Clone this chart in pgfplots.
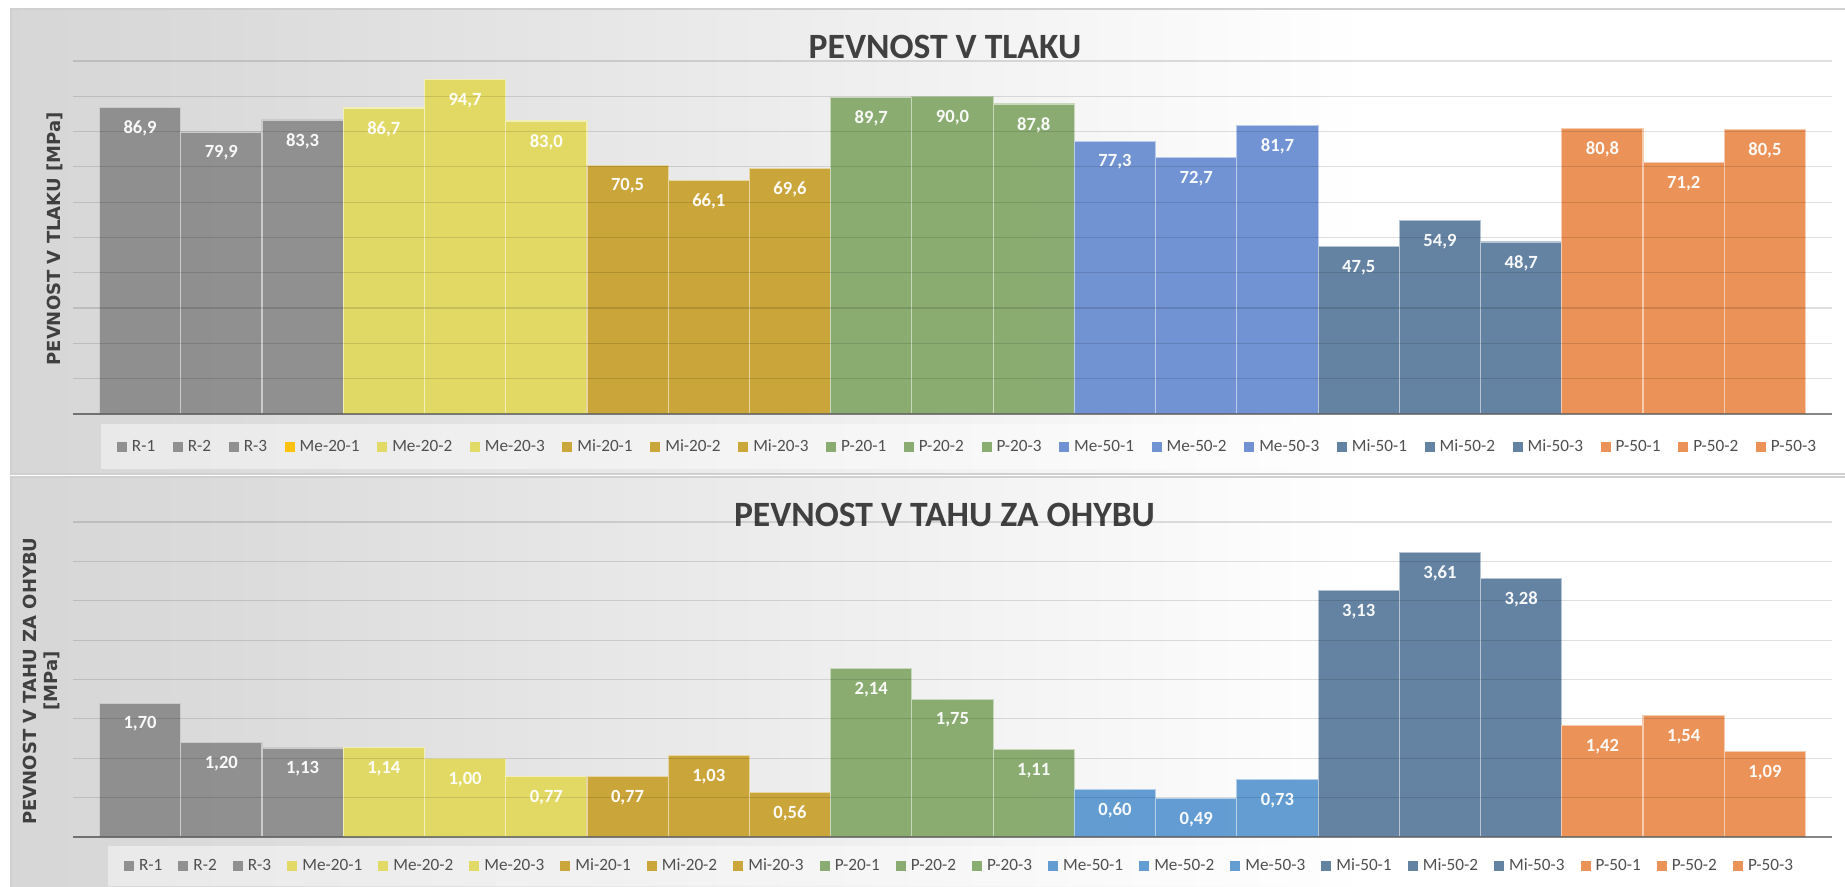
\documentclass[border=0pt]{standalone}
\usepackage{fontspec}
\setmainfont{Carlito}
\newfontfamily\djv{DejaVu Sans}
\usepackage{pgfplots}
\pgfplotsset{compat=1.18}

\definecolor{cR}{HTML}{8C8C8C}
\definecolor{cMe}{HTML}{E2D95F}
\definecolor{cMi}{HTML}{C9A231}
\definecolor{cP}{HTML}{85A96B}
\definecolor{cMeT}{HTML}{6A8ED1}
\definecolor{cMeB}{HTML}{5B98D0}
\definecolor{cMiF}{HTML}{5C7D9E}
\definecolor{cPF}{HTML}{E98D4F}
\definecolor{cGold}{HTML}{FFC000}
\definecolor{cTitle}{HTML}{404040}
\definecolor{cLeg}{HTML}{505050}
\definecolor{gA}{HTML}{C4C4C4}
\definecolor{gB}{HTML}{DADADA}
\definecolor{gC}{HTML}{BDBDBD}
\definecolor{cFrame}{HTML}{D0D0D0}

\pgfdeclarehorizontalshading{bgshade}{100bp}{color(0bp)=(gA); color(30bp)=(gB); color(62bp)=(white); color(80bp)=(white); color(100bp)=(gC)}

\pgfplotsset{
  sqleg/.style={legend image code/.code={\fill[##1,draw=none] (0pt,-2.5pt) rectangle (5pt,2.5pt);}},
  sqgold/.style={legend image code/.code={\fill[fill=cGold,draw=none] (0pt,-2.5pt) rectangle (5pt,2.5pt);}},
  panel/.style={
    scale only axis, width=879.5pt,
    xmin=-0.826, xmax=20.826, ymin=0,
    xtick=\empty, yticklabels={},
    ymajorgrids, grid style={black, opacity=0.12, line width=0.6pt},
    axis x line*=bottom, axis y line*=left,
    y axis line style={draw=none},
    x axis line style={black, opacity=0.4, line width=0.6pt, -},
    major tick length=0pt,
    axis on top,
    ybar, bar width=1, bar shift=0pt,
    every node near coord/.append style={font=\bfseries\fontsize{9.3}{9.3}\selectfont, text=white, anchor=center, yshift=-10.5pt},
    legend columns=21,
    legend style={draw=none, fill=none, inner sep=0pt, outer sep=0pt, anchor=west,
      font=\fontsize{8.6}{8.6}\selectfont, text=cLeg,
      nodes={inner xsep=0pt, inner ysep=1pt},
      /tikz/every odd column/.append style={column sep=2.5pt}},
  },
}
\newcommand{\bb}[4]{\addplot[fill=#1, draw=#1!45!white, line width=0.6pt, fill opacity=0.95, sqleg] coordinates {(#2,#3)}; \addlegendentry{#4}}

\begin{document}
\begin{tikzpicture}[x=1pt,y=1pt]
\useasboundingbox (0,0) rectangle (922.5,443.5);
% panels
\shade[shading=bgshade] (5.5,206.5) rectangle (922.5,439);
\draw[cFrame, line width=0.8pt] (923.5,439) -- (5.5,439) -- (5.5,206.5) -- (923.5,206.5);
\shade[shading=bgshade] (5.5,-1) rectangle (922.5,205);
\draw[cFrame, line width=0.8pt] (923.5,205) -- (5.5,205) -- (5.5,-1);
% legend boxes
\fill[white, opacity=0.45] (50.5,209) rectangle (911,231.5);
\fill[white, opacity=0.45] (54,0.5) rectangle (898.5,20.5);
% titles
\node[anchor=base, font=\bfseries\fontsize{17.8}{17.8}\selectfont, text=cTitle] at (472.5,414) {PEVNOST V TLAKU};
\node[anchor=base, font=\bfseries\fontsize{17.8}{17.8}\selectfont, text=cTitle] at (472.25,180) {PEVNOST V TAHU ZA OHYBU};
% y labels
\node[rotate=90, anchor=base, font=\djv\bfseries\fontsize{9}{9}\selectfont, text=cTitle] at (30,324) {PEVNOST V TLAKU [MPa]};
\node[rotate=90, anchor=center, align=center, inner sep=0pt, font=\djv\bfseries\fontsize{9}{10.5}\selectfont, text=cTitle] at (21,103) {PEVNOST V TAHU ZA OHYBU\\{[MPa]}};

% top chart
\begin{axis}[panel, at={(36.5pt,236.5pt)}, anchor=south west, height=176.5pt,
  ymax=100, ytick={0,10,...,100},
  nodes near coords={\pgfmathprintnumber[fixed,fixed zerofill,precision=1,use comma,assume math mode=true]{\pgfplotspointmeta}},
  legend style={at={(0.025,-0.0935)}, /tikz/every even column/.append style={column sep=8.8pt}},
]
\bb{cR}{0}{86.9}{R-1}
\bb{cR}{1}{79.9}{R-2}
\bb{cR}{2}{83.3}{R-3}
\addplot[fill=cMe, draw=cMe!45!white, line width=0.6pt, fill opacity=0.95, sqgold] coordinates {(3,86.7)}; \addlegendentry{Me-20-1}
\bb{cMe}{4}{94.7}{Me-20-2}
\bb{cMe}{5}{83.0}{Me-20-3}
\bb{cMi}{6}{70.5}{Mi-20-1}
\bb{cMi}{7}{66.1}{Mi-20-2}
\bb{cMi}{8}{69.6}{Mi-20-3}
\bb{cP}{9}{89.7}{P-20-1}
\bb{cP}{10}{90.0}{P-20-2}
\bb{cP}{11}{87.8}{P-20-3}
\bb{cMeT}{12}{77.3}{Me-50-1}
\bb{cMeT}{13}{72.7}{Me-50-2}
\bb{cMeT}{14}{81.7}{Me-50-3}
\bb{cMiF}{15}{47.5}{Mi-50-1}
\bb{cMiF}{16}{54.9}{Mi-50-2}
\bb{cMiF}{17}{48.7}{Mi-50-3}
\bb{cPF}{18}{80.8}{P-50-1}
\bb{cPF}{19}{71.2}{P-50-2}
\bb{cPF}{20}{80.5}{P-50-3}
\end{axis}

% bottom chart
\begin{axis}[panel, at={(36.5pt,25pt)}, anchor=south west, height=157.5pt,
  ymax=4, ytick={0,0.5,...,4},
  nodes near coords={\pgfmathprintnumber[fixed,fixed zerofill,precision=2,use comma,assume math mode=true]{\pgfplotspointmeta}},
  legend style={at={(0.029,-0.092)}, /tikz/every even column/.append style={column sep=8.05pt}},
]
\bb{cR}{0}{1.70}{R-1}
\bb{cR}{1}{1.20}{R-2}
\bb{cR}{2}{1.13}{R-3}
\bb{cMe}{3}{1.14}{Me-20-1}
\bb{cMe}{4}{1.00}{Me-20-2}
\bb{cMe}{5}{0.77}{Me-20-3}
\bb{cMi}{6}{0.77}{Mi-20-1}
\bb{cMi}{7}{1.03}{Mi-20-2}
\bb{cMi}{8}{0.56}{Mi-20-3}
\bb{cP}{9}{2.14}{P-20-1}
\bb{cP}{10}{1.75}{P-20-2}
\bb{cP}{11}{1.11}{P-20-3}
\bb{cMeB}{12}{0.60}{Me-50-1}
\bb{cMeB}{13}{0.49}{Me-50-2}
\bb{cMeB}{14}{0.73}{Me-50-3}
\bb{cMiF}{15}{3.13}{Mi-50-1}
\bb{cMiF}{16}{3.61}{Mi-50-2}
\bb{cMiF}{17}{3.28}{Mi-50-3}
\bb{cPF}{18}{1.42}{P-50-1}
\bb{cPF}{19}{1.54}{P-50-2}
\bb{cPF}{20}{1.09}{P-50-3}
\end{axis}
\end{tikzpicture}
\end{document}
